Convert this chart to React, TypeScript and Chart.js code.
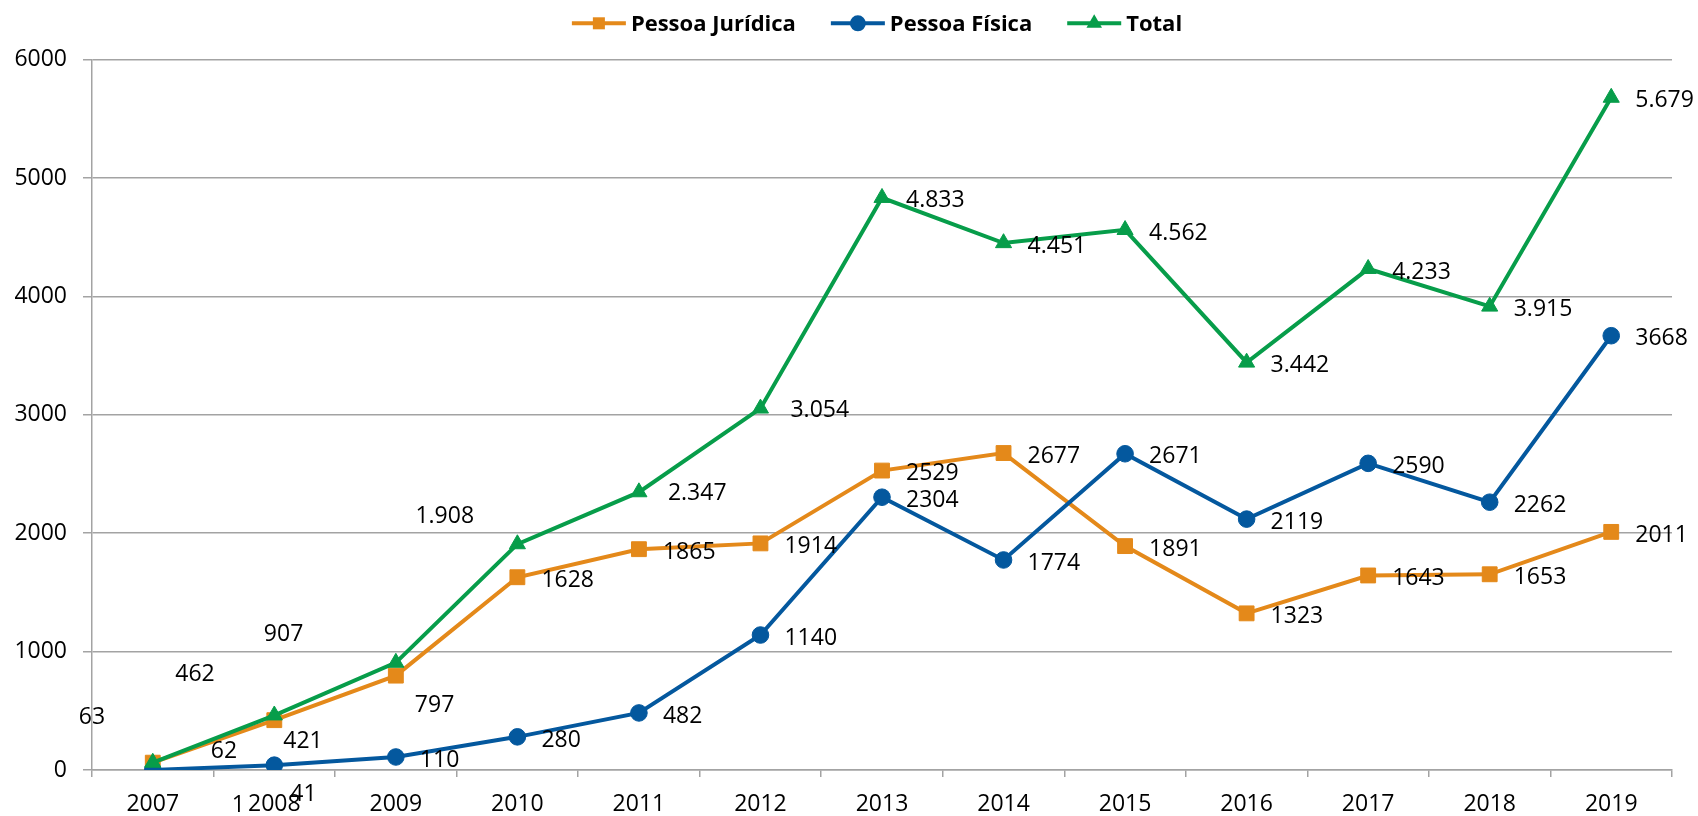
import React, { useEffect, useRef } from 'react';
import { Chart, registerables } from 'chart.js';

Chart.register(...registerables);

const categories = ['2007', '2008', '2009', '2010', '2011', '2012', '2013', '2014', '2015', '2016', '2017', '2018', '2019'];
const pessoaJuridica = [62, 421, 797, 1628, 1865, 1914, 2529, 2677, 1891, 1323, 1643, 1653, 2011];
const pessoaFisica = [1, 41, 110, 280, 482, 1140, 2304, 1774, 2671, 2119, 2590, 2262, 3668];
const total = [63, 462, 907, 1908, 2347, 3054, 4833, 4451, 4562, 3442, 4233, 3915, 5679];
const seriesNames = ['Pessoa Jurídica', 'Pessoa Física', 'Total'];
const yMin = 0;
const yMax = 6000;
const yStep = 1000;

const ORANGE = '#E4891A';
const BLUE = '#04589E';
const GREEN = '#079D4A';
const GRID = '#a3a3a3';
const FONT = '"Open Sans", "DejaVu Sans", sans-serif';
const LABEL_SIZE = 23;

const fmtDot = (v: number) => String(v).replace(/\B(?=(\d{3})+(?!\d))/g, '.');

// label placement (px) relative to the point: [dx to text left, dy to text centre]
const DEFAULT_OFFSET: [number, number] = [24, 1.5];
const OFFSETS: Record<string, [number, number]> = {
  '0-0': [58, -13], '0-1': [9, 20], '0-2': [19, 28],
  '1-0': [79, 33.5], '1-1': [16, 28],
  '2-0': [-74, -47], '2-1': [-99, -43], '2-2': [-132, -30], '2-3': [-102, -29], '2-4': [29, 0], '2-5': [30, 0],
};

function drawMarker(ctx: CanvasRenderingContext2D, style: string, x: number, y: number, r: number, color: string) {
  ctx.save();
  ctx.fillStyle = color;
  ctx.beginPath();
  if (style === 'rect') {
    const s = r * Math.SQRT1_2;
    ctx.rect(x - s, y - s, 2 * s, 2 * s);
  } else if (style === 'circle') {
    ctx.arc(x, y, r, 0, Math.PI * 2);
  } else {
    ctx.moveTo(x, y - r);
    ctx.lineTo(x + r * Math.sin((2 * Math.PI) / 3), y - r * Math.cos((2 * Math.PI) / 3));
    ctx.lineTo(x + r * Math.sin((4 * Math.PI) / 3), y - r * Math.cos((4 * Math.PI) / 3));
    ctx.closePath();
  }
  ctx.fill();
  ctx.restore();
}

const labelsPlugin = {
  id: 'pointLabels',
  afterDatasetsDraw(chart: any) {
    const ctx: CanvasRenderingContext2D = chart.ctx;
    ctx.save();
    ctx.font = `${LABEL_SIZE}px ${FONT}`;
    ctx.fillStyle = '#000';
    ctx.textAlign = 'left';
    ctx.textBaseline = 'alphabetic';
    chart.data.datasets.forEach((ds: any, di: number) => {
      const meta = chart.getDatasetMeta(di);
      meta.data.forEach((pt: any, i: number) => {
        const v = ds.data[i] as number;
        const text = di === 2 ? fmtDot(v) : String(v);
        const [dx, dy] = OFFSETS[`${di}-${i}`] || DEFAULT_OFFSET;
        ctx.fillText(text, pt.x + dx, pt.y + dy + LABEL_SIZE * 0.357);
      });
    });
    ctx.restore();
  },
};

const legendPlugin = {
  id: 'excelLegend',
  afterDraw(chart: any) {
    const ctx: CanvasRenderingContext2D = chart.ctx;
    const ds = chart.data.datasets;
    ctx.save();
    ctx.font = `bold 22px ${FONT}`;
    const lineLen = 54;
    const gapText = 5;
    const gapItem = 35;
    const widths = ds.map((d: any) => ctx.measureText(d.label).width);
    const totalW = widths.reduce((a: number, w: number) => a + lineLen + gapText + w, 0) + gapItem * (ds.length - 1);
    const cx = (chart.chartArea.left + chart.chartArea.right) / 2 - 5;
    let x = cx - totalW / 2;
    const y = 23.3;
    ds.forEach((d: any, i: number) => {
      ctx.strokeStyle = d.borderColor;
      ctx.lineWidth = 4;
      ctx.beginPath();
      ctx.moveTo(x, y);
      ctx.lineTo(x + lineLen, y);
      ctx.stroke();
      const r = d.pointStyle === 'rect' ? 8.5 : d.pointStyle === 'circle' ? 8 : 9;
      drawMarker(ctx, d.pointStyle, x + lineLen / 2, y, r, d.borderColor);
      ctx.fillStyle = '#000';
      ctx.textAlign = 'left';
      ctx.textBaseline = 'alphabetic';
      ctx.fillText(d.label, x + lineLen + gapText, y + 22 * 0.357);
      x += lineLen + gapText + widths[i] + gapItem;
    });
    ctx.restore();
  },
};

export default function App() {
  const ref = useRef<HTMLCanvasElement | null>(null);
  useEffect(() => {
    document.body.style.margin = '0';
    document.documentElement.style.overflow = 'hidden';
    const canvas = ref.current!;
    const mk = (label: string, data: number[], color: string, style: string, radius: number, order: number) => ({
      label,
      data,
      borderColor: color,
      backgroundColor: color,
      pointBackgroundColor: color,
      pointBorderColor: color,
      pointBorderWidth: 1,
      pointStyle: style,
      pointRadius: radius,
      borderWidth: 4,
      tension: 0,
      fill: false,
      order,
    });
    const chart = new Chart(canvas, {
      type: 'line',
      data: {
        labels: categories,
        datasets: [
          mk(seriesNames[0], pessoaJuridica, ORANGE, 'rect', 10.5, 2),
          mk(seriesNames[1], pessoaFisica, BLUE, 'circle', 8.3, 1),
          mk(seriesNames[2], total, GREEN, 'triangle', 9.3, 0),
        ],
      },
      options: {
        animation: false,
        responsive: false,
        devicePixelRatio: 1,
        layout: { padding: { left: 0, top: 59.6, right: 26, bottom: 0 } },
        plugins: {
          legend: { display: false },
          tooltip: { enabled: false },
          title: { display: false },
        },
        scales: {
          x: {
            type: 'category',
            offset: true,
            grid: { offset: true, drawOnChartArea: false, drawTicks: true, tickLength: 7, color: GRID, lineWidth: 1.5 },
            border: { display: true, color: GRID, width: 1.5 },
            ticks: { color: '#000', font: { family: FONT, size: LABEL_SIZE }, padding: 14, maxRotation: 0, autoSkip: false },
            afterFit: (s: any) => { s.height = 46; },
          },
          y: {
            min: yMin,
            max: yMax,
            ticks: {
              stepSize: yStep,
              color: '#000',
              font: { family: FONT, size: LABEL_SIZE },
              padding: 16,
              callback: (v: any) => String(v),
            },
            grid: { color: GRID, lineWidth: 1.5, tickLength: 9, drawTicks: true },
            border: { display: true, color: GRID, width: 1.5 },
            afterFit: (s: any) => { s.width = 92; },
          },
        },
      },
      plugins: [labelsPlugin, legendPlugin],
    } as any);
    return () => chart.destroy();
  }, []);
  return (
    <div style={{ width: 1698, height: 816, background: '#fff' }}>
      <canvas ref={ref} width={1698} height={816} style={{ display: 'block' }} />
    </div>
  );
}
